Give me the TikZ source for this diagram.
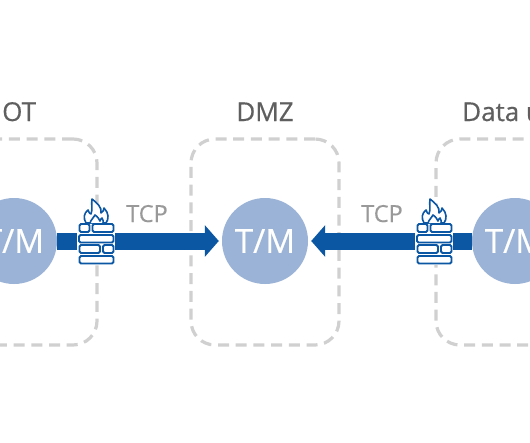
\documentclass[tikz,border=0pt]{standalone}
\usepackage{fontspec}
\setmainfont{Open Sans}
\newfontfamily\semifont[FakeBold=0.5]{Open Sans}
\newfontfamily\lightbold[FakeBold=0.25]{Open Sans}
\usetikzlibrary{arrows.meta}
\definecolor{wallblue}{HTML}{0B57A4}
\definecolor{tmfill}{HTML}{9AB3D6}
\definecolor{boxgrey}{HTML}{D0D0D0}
\definecolor{headgrey}{HTML}{5F5F5F}
\definecolor{tcpgrey}{HTML}{999999}
\tikzset{
  x=1pt,y=-1pt,
  tm/.style={circle,fill=tmfill,text=white,minimum size=86pt,inner sep=0pt,font=\semifont\fontsize{33}{33}\selectfont},
  zone/.style={draw=boxgrey,line width=3.2pt,rounded corners=24pt,dash pattern=on 11pt off 6.7pt,minimum height=206pt,inner sep=0pt},
  heading/.style={text=headgrey,font=\semifont\fontsize{26}{26}\selectfont,inner sep=0pt,anchor=base},
  tcplabel/.style={text=tcpgrey,font=\lightbold\fontsize{23.5}{23.5}\selectfont,inner sep=0pt,anchor=base},
  flow/.style={draw=wallblue,line width=17pt,-{Triangle[length=14pt,width=31pt,fill=wallblue]},shorten >=3pt},
  brick/.style={draw=wallblue,fill=white,line width=1.8pt,rounded corners=1.5pt},
  flameline/.style={draw=wallblue,fill=white,line width=1.6pt,line join=round},
  halo/.style={fill=white},
  pics/firewall/.style={code={
    \path[halo] (-2,25) rectangle (35.5,66.5);
    \path[flameline] (7,25) .. controls (4,20) and (5,15) .. (9,12)
      .. controls (10,15) and (11,16) .. (12,16)
      .. controls (14,11) and (12,6) .. (13,1)
      .. controls (18,5) and (23,9) .. (22,15)
      .. controls (24,14) and (25,12) .. (25,10)
      .. controls (30,15) and (30,21) .. (27,25) -- cycle;
    \path[flameline] (11,25) .. controls (12,21) and (15,20) .. (16,17)
      .. controls (19,19) and (20,21) .. (21,23) .. controls (21,22) and (22,21) .. (23,20) .. controls (25,22) and (24,24) .. (24,25);
    \path[brick] (0.5,26) rectangle (10.5,34);
    \path[brick] (13.5,26) rectangle (34.5,34);
    \path[brick] (0,37) rectangle (34.5,44.5);
    \path[brick] (0.5,47) rectangle (21,55);
    \path[brick] (24,47) rectangle (34.5,55);
    \path[brick] (0.5,58) rectangle (34.5,65.5);
  }}
}
\begin{document}
\begin{tikzpicture}
\path[use as bounding box] (0,0) rectangle (530,442);
\clip (0,0) rectangle (530,442);
\fill[white] (0,0) rectangle (530,442);
\node[zone,minimum width=200pt] (zoneL) at (-3,242) {};
\node[zone,minimum width=148pt] (zoneM) at (265,242) {};
\node[zone,minimum width=200pt] (zoneR) at (536,242) {};
\node[heading] (headL) at (2,121) [anchor=base west] {OT};
\node[heading] (headM) at (265,121) {DMZ};
\node[heading] (headR) at (462,121) [anchor=base west] {Data u};
\node[tm] (tmL) at (14,241) {T/M};
\node[tm] (tmM) at (265,241) {T/M};
\node[tm] (tmR) at (515,241) {T/M};
\draw[flow] (tmL) -- (tmM);
\draw[flow] (tmR) -- (tmM);
\node[tcplabel] (tcpL) at (147,222) {TCP};
\node[tcplabel] (tcpR) at (382,222) {TCP};
\pic at (79,198) {firewall};
\pic at (417,198) {firewall};
\end{tikzpicture}
\end{document}
